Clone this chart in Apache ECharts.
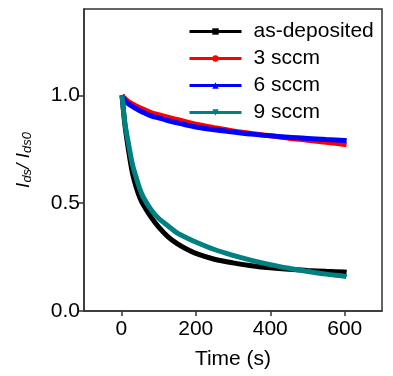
<!DOCTYPE html>
<html>
<head>
<meta charset="utf-8">
<script src="https://cdn.jsdelivr.net/npm/echarts@6/dist/echarts.min.js"></script>
<style>
  html, body { margin: 0; padding: 0; background: #fff; }
  #main { width: 393px; height: 376px; }
</style>
</head>
<body>
<div id="main"></div>
<script>
var chart = echarts.init(document.getElementById('main'));

// time (s)
var times = [2, 10, 20, 30, 40, 50, 60, 80, 100, 125, 150, 175, 200, 250, 300, 350, 400, 450, 500, 550, 600, 605];
// Ids/Ids0
var asDeposited = [1.0, 0.86, 0.74, 0.64, 0.575, 0.525, 0.49, 0.435, 0.39, 0.345, 0.312, 0.287, 0.267, 0.24, 0.223, 0.21, 0.2, 0.193, 0.188, 0.184, 0.181, 0.18];
var sccm3 = [1.0, 0.985, 0.97, 0.96, 0.95, 0.942, 0.935, 0.92, 0.91, 0.898, 0.888, 0.876, 0.866, 0.85, 0.835, 0.823, 0.812, 0.801, 0.792, 0.782, 0.772, 0.771];
var sccm6 = [1.0, 0.975, 0.96, 0.948, 0.938, 0.928, 0.92, 0.905, 0.895, 0.883, 0.872, 0.862, 0.853, 0.84, 0.83, 0.82, 0.812, 0.805, 0.8, 0.795, 0.79, 0.789];
var sccm9 = [1.0, 0.87, 0.77, 0.68, 0.62, 0.565, 0.525, 0.47, 0.43, 0.395, 0.362, 0.34, 0.32, 0.285, 0.258, 0.235, 0.215, 0.198, 0.183, 0.171, 0.161, 0.159];

var names = ['as-deposited', '3 sccm', '6 sccm', '9 sccm'];
var colors = ['#000000', '#ff0000', '#0000ff', '#008080'];
var symbols = ['rect', 'circle', 'triangle', 'path://M0,0 L10,0 L5,10 Z'];
var values = [asDeposited, sccm3, sccm6, sccm9];

function pairs(ys) {
  var out = [];
  for (var i = 0; i < times.length; i++) {
    out.push([times[i], ys[i]]);
  }
  return out;
}

var series = [];
for (var k = 0; k < names.length; k++) {
  series.push({
    name: names[k],
    type: 'line',
    data: pairs(values[k]),
    smooth: 0.3,
    showSymbol: false,
    symbol: symbols[k],
    symbolSize: 6,
    lineStyle: { color: colors[k], width: 5 },
    itemStyle: { color: colors[k] }
  });
}

var font = 'Liberation Sans, Arial, sans-serif';

option = {
  backgroundColor: '#FFFFFF',
  animation: false,
  textStyle: { fontFamily: font },
  grid: {
    left: 84,
    right: 11,
    top: 9,
    bottom: 65,
    show: true,
    borderColor: '#333',
    borderWidth: 1.5
  },
  legend: {
    orient: 'vertical',
    left: 183,
    top: 16,
    itemWidth: 52,
    itemHeight: 8,
    itemGap: 6,
    data: names,
    lineStyle: { width: 3 },
    textStyle: {
      fontFamily: font,
      fontSize: 21,
      color: '#000',
      padding: [0, 0, 0, 7]
    }
  },
  xAxis: {
    type: 'value',
    min: -100,
    max: 700,
    name: 'Time (s)',
    nameLocation: 'middle',
    nameGap: 38,
    nameTextStyle: { fontFamily: font, fontSize: 21, color: '#000' },
    splitLine: { show: false },
    axisLine: { onZero: false, lineStyle: { color: '#333', width: 1.5 } },
    axisTick: { customValues: [0, 200, 400, 600], inside: false, length: 5, lineStyle: { color: '#333', width: 1.5 } },
    axisLabel: { customValues: [0, 200, 400, 600], margin: 8, fontFamily: font, fontSize: 21, color: '#000' }
  },
  yAxis: {
    type: 'value',
    min: 0,
    max: 1.4,
    name: '{a|I}{s|ds}{a|/ I}{s|ds0}',
    nameLocation: 'middle',
    nameGap: 50,
    nameTextStyle: {
      rich: {
        a: { fontFamily: font, fontSize: 19, fontStyle: 'italic', color: '#000' },
        s: { fontFamily: font, fontSize: 13, fontStyle: 'italic', color: '#000', padding: [8, 0, 0, 0] }
      }
    },
    splitLine: { show: false },
    axisLine: { show: true, onZero: false, lineStyle: { color: '#333', width: 1.5 } },
    axisTick: { show: true, customValues: [0, 0.5, 1.0], length: 5, lineStyle: { color: '#333', width: 1.5 } },
    axisLabel: {
      customValues: [0, 0.5, 1.0],
      margin: 4,
      fontFamily: font,
      fontSize: 21,
      color: '#000',
      formatter: function (v) { return v.toFixed(1); }
    }
  },
  series: series
};

chart.setOption(option);
</script>
</body>
</html>
